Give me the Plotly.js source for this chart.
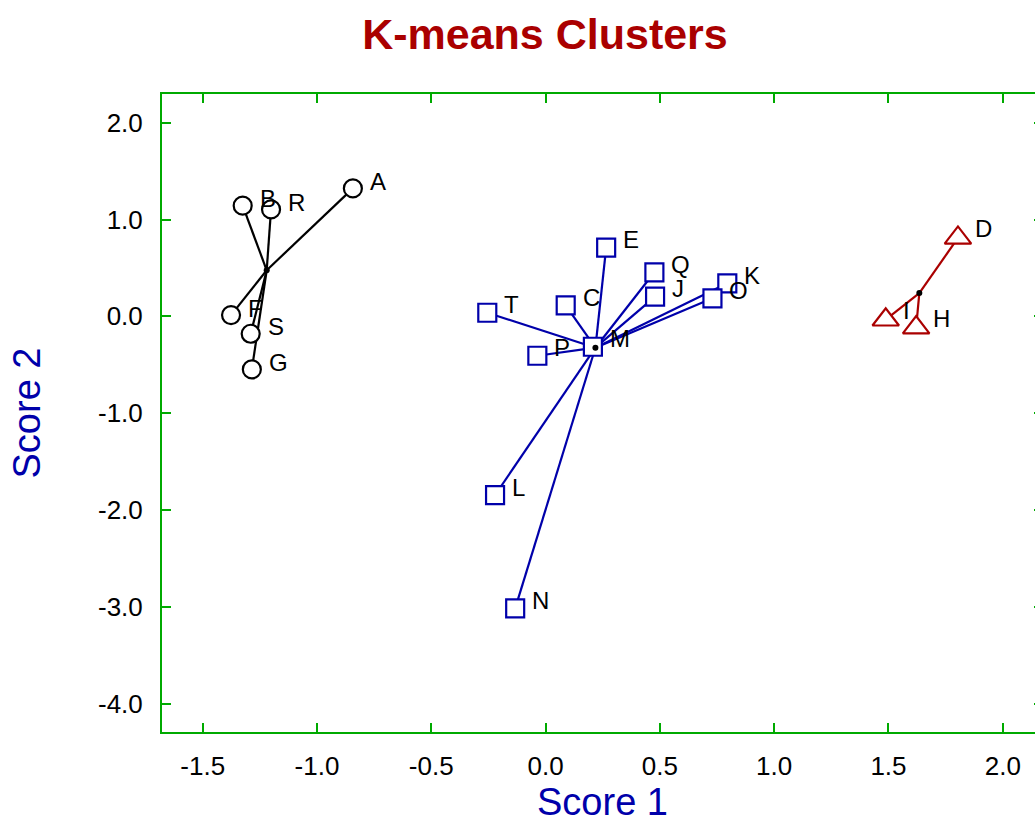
<!DOCTYPE html>
<html>
<head>
<meta charset="utf-8">
<script src="https://cdn.plot.ly/plotly-3.0.1.min.js"></script>
<style>
html,body{margin:0;padding:0;overflow:hidden;background:#fff;}
#chart{width:1043px;height:823px;}
</style>
</head>
<body>
<div id="chart"></div>
<script>
// Cluster 1 (black circles)
const labels1 = ['A','B','R','F','S','G'];
const x1 = [-0.843, -1.325, -1.201, -1.376, -1.290, -1.285];
const y1 = [1.322, 1.143, 1.105, 0.013, -0.180, -0.548];
const centroid1 = [-1.220, 0.476];

// Cluster 2 (blue squares)
const labels2 = ['E','Q','J','K','O','C','T','P','M','L','N'];
const x2 = [0.265, 0.476, 0.479, 0.795, 0.730, 0.088, -0.255, -0.036, 0.207, -0.221, -0.133];
const y2 = [0.709, 0.455, 0.203, 0.341, 0.186, 0.114, 0.037, -0.407, -0.314, -1.846, -3.017];
const centroid2 = [0.218, -0.324];

// Cluster 3 (red triangles)
const labels3 = ['D','I','H'];
const x3 = [1.804, 1.488, 1.621];
const y3 = [0.810, -0.035, -0.117];
const centroid3 = [1.635, 0.240];

const xTickVals = [-1.5, -1.0, -0.5, 0.0, 0.5, 1.0, 1.5, 2.0];
const xTickText = ['-1.5', '-1.0', '-0.5', '0.0', '0.5', '1.0', '1.5', '2.0'];
const yTickVals = [-4.0, -3.0, -2.0, -1.0, 0.0, 1.0, 2.0];
const yTickText = ['-4.0', '-3.0', '-2.0', '-1.0', '0.0', '1.0', '2.0'];

const BLACK = '#000000', BLUE = '#0000AA', RED = '#AA0000', GREEN = '#00AA00';
const FONT = 'Liberation Sans, Arial, sans-serif';

function spokes(xs, ys, c) {
  const lx = [], ly = [];
  xs.forEach((x, i) => { lx.push(c[0], x, null); ly.push(c[1], ys[i], null); });
  return {lx, ly};
}

const clusters = [
  {x: x1, y: y1, lab: labels1, c: centroid1, color: BLACK, symbol: 'circle', size: 18, ys: 7},
  {x: x2, y: y2, lab: labels2, c: centroid2, color: BLUE, symbol: 'square', size: 18, ys: 8},
  {x: x3, y: y3, lab: labels3, c: centroid3, color: RED, symbol: 'triangle-up', size: 23, ys: 9}
];

const traces = [];
const annotations = [];
clusters.forEach(cl => {
  const s = spokes(cl.x, cl.y, cl.c);
  traces.push({x: s.lx, y: s.ly, mode: 'lines', type: 'scatter',
    line: {color: cl.color, width: 2.2}, hoverinfo: 'skip', showlegend: false});
});
clusters.forEach(cl => {
  traces.push({x: cl.x, y: cl.y, mode: 'markers', type: 'scatter', text: cl.lab,
    marker: {symbol: cl.symbol, size: cl.size, color: '#ffffff', line: {color: cl.color, width: 2.2}},
    showlegend: false});
});
clusters.forEach(cl => {
  traces.push({x: [cl.c[0]], y: [cl.c[1]], mode: 'markers', type: 'scatter',
    marker: {symbol: 'circle', size: 6, color: '#000000'}, showlegend: false});
  cl.lab.forEach((t, i) => {
    annotations.push({x: cl.x[i], y: cl.y[i], xref: 'x', yref: 'y', text: t, showarrow: false,
      xanchor: 'left', yanchor: 'middle', xshift: 15, yshift: cl.ys,
      font: {family: FONT, size: 24, color: '#000'}});
  });
});

const axisCommon = {
  showline: true, linecolor: GREEN, linewidth: 2, mirror: 'ticks',
  ticks: 'inside', ticklen: 9, tickwidth: 2, tickcolor: GREEN,
  showgrid: false, zeroline: false, tickmode: 'array',
  tickfont: {family: FONT, size: 26, color: '#000'}
};

const layout = {
  width: 1043, height: 823,
  margin: {l: 162, r: 0, t: 94, b: 91},
  paper_bgcolor: '#fff', plot_bgcolor: '#fff',
  title: {text: 'K-means Clusters', xref: 'container', x: 0.5225, xanchor: 'center',
    yref: 'container', y: 0.959, yanchor: 'middle',
    font: {family: FONT, size: 43, color: '#AA0000', weight: 'bold'}},
  xaxis: Object.assign({}, axisCommon, {range: [-1.678, 2.176], tickvals: xTickVals, ticktext: xTickText,
    ticklabelstandoff: 10,
    title: {text: 'Score 1', standoff: 10, font: {family: FONT, size: 38, color: BLUE}}}),
  yaxis: Object.assign({}, axisCommon, {range: [-4.294, 2.297], tickvals: yTickVals, ticktext: yTickText,
    ticklabelstandoff: 12,
    title: {text: 'Score 2', standoff: 46, font: {family: FONT, size: 38, color: BLUE}}}),
  annotations: annotations,
  showlegend: false
};

Plotly.newPlot('chart', traces, layout, {displayModeBar: false, staticPlot: true});
</script>
</body>
</html>
